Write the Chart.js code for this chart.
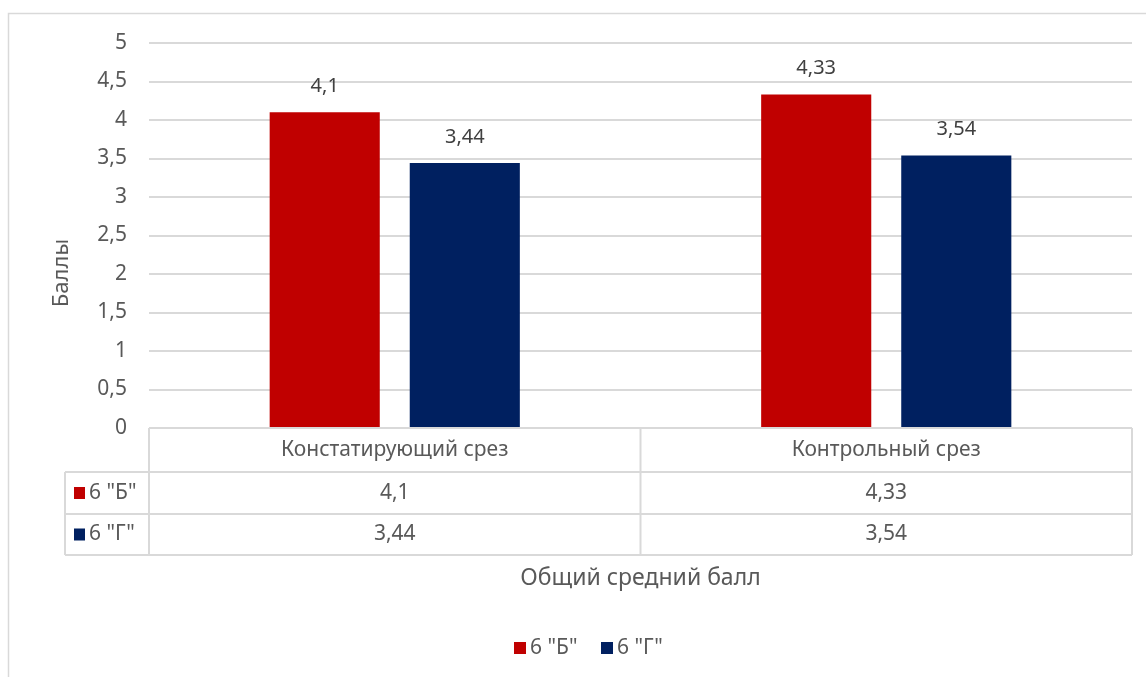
<!DOCTYPE html>
<html>
<head>
<meta charset="utf-8">
<script src="https://cdn.jsdelivr.net/npm/chart.js@4/dist/chart.umd.min.js"></script>
<style>
  html,body{margin:0;padding:0;background:#fff;}
  #wrap{width:1146px;height:677px;position:relative;}
</style>
</head>
<body>
<div id="wrap"><canvas id="chartBall"></canvas></div>
<script>
const categories = ["Констатирующий срез", "Контрольный срез"];
const seriesNames = ['6 "Б"', '6 "Г"'];
const valuesB = [4.1, 4.33];
const valuesG = [3.44, 3.54];
const seriesColors = ["#C00000", "#002060"];
const yTitle = "Баллы";
const xTitle = "Общий средний балл";

const FONT = "'Noto Sans', sans-serif";
const TEXT = "#595959";
const LINE = "#d9d9d9";

const fmt = v => String(v).replace(".", ",");

// data labels, data table, titles, legend, outer frame
const excelBits = {
  id: "excelBits",
  afterDraw(chart){
    const ctx = chart.ctx;
    const area = chart.chartArea;
    const xs = chart.scales.x;
    ctx.save();

    // outer frame of the chart object
    ctx.strokeStyle = LINE;
    ctx.lineWidth = 1.5;
    ctx.strokeRect(8.5, 13.5, 1400, 900);

    // values above bars
    ctx.fillStyle = "#404040";
    ctx.font = "20px " + FONT;
    ctx.textAlign = "center";
    ctx.textBaseline = "middle";
    chart.data.datasets.forEach((ds, di) => {
      chart.getDatasetMeta(di).data.forEach((bar, i) => {
        ctx.fillText(fmt(ds.data[i]), bar.x, bar.y - 26);
      });
    });

    // data table
    const rowH = [44, 42, 41];
    const top = area.bottom;
    const r1 = top + rowH[0], r2 = r1 + rowH[1], r3 = r2 + rowH[2];
    const keyLeft = 65;
    const half = (xs.getPixelForValue(1) - xs.getPixelForValue(0)) / 2;
    const mid = xs.getPixelForValue(0) + half;

    ctx.strokeStyle = LINE;
    ctx.lineWidth = 2;
    ctx.beginPath();
    ctx.moveTo(area.left, top); ctx.lineTo(area.right, top);
    [r1, r2, r3].forEach(y => { ctx.moveTo(keyLeft, y); ctx.lineTo(area.right, y); });
    ctx.moveTo(keyLeft, r1); ctx.lineTo(keyLeft, r3);
    [area.left, mid, area.right].forEach(x => { ctx.moveTo(x, top); ctx.lineTo(x, r3); });
    ctx.stroke();

    ctx.fillStyle = TEXT;
    ctx.font = "21px " + FONT;
    categories.forEach((c, i) => {
      ctx.fillText(c, xs.getPixelForValue(i), top + rowH[0] / 2);
    });
    const rows = [valuesB, valuesG];
    const rowMid = [r1 + rowH[1] / 2, r2 + rowH[2] / 2];
    rows.forEach((vals, ri) => {
      vals.forEach((v, i) => {
        ctx.fillStyle = TEXT;
        ctx.textAlign = "center";
        ctx.fillText(fmt(v), xs.getPixelForValue(i), rowMid[ri]);
      });
      ctx.fillStyle = seriesColors[ri];
      ctx.fillRect(74, rowMid[ri] - 6, 11, 12);
      ctx.fillStyle = TEXT;
      ctx.textAlign = "left";
      ctx.fillText(seriesNames[ri], 89, rowMid[ri]);
    });

    // legend under the chart
    ctx.font = "21px " + FONT;
    let lx = 514;
    seriesNames.forEach((n, i) => {
      ctx.fillStyle = seriesColors[i];
      ctx.fillRect(lx, 642, 12, 12);
      ctx.fillStyle = TEXT;
      ctx.textAlign = "left";
      ctx.fillText(n, lx + 16, 648);
      lx += 87;
    });

    // axis titles
    ctx.textAlign = "center";
    ctx.font = "23px " + FONT;
    ctx.fillText(xTitle, (area.left + area.right) / 2, 578);
    ctx.font = "22px " + FONT;
    ctx.translate(62, 273);
    ctx.rotate(-Math.PI / 2);
    ctx.fillText(yTitle, 0, 0);
    ctx.restore();
  }
};

function buildChart(){
  const ctx = document.getElementById("chartBall");
  return new Chart(ctx, {
    type: "bar",
    data: {
      labels: categories,
      datasets: [
        { label: seriesNames[0], data: valuesB, backgroundColor: seriesColors[0] },
        { label: seriesNames[1], data: valuesG, backgroundColor: seriesColors[1] }
      ]
    },
    options: {
      responsive: true,
      maintainAspectRatio: false,
      animation: false,
      categoryPercentage: 0.57,
      barPercentage: 0.786,
      layout: { padding: { top: 43, right: 14, bottom: 10, left: 0 } },
      plugins: {
        tooltip: { enabled: false },
        legend: { display: false }
      },
      scales: {
        x: {
          ticks: { display: false },
          grid: { display: false, drawTicks: false },
          border: { display: false },
          afterFit(s){ s.height = 239; }
        },
        y: {
          min: 0, max: 5,
          ticks: {
            stepSize: 0.5,
            padding: 22,
            color: TEXT,
            font: { family: FONT, size: 21 },
            callback: v => fmt(v)
          },
          grid: { color: LINE, lineWidth: 2, drawTicks: false },
          border: { display: false },
          afterFit(s){ s.width = 149; }
        }
      }
    },
    plugins: [excelBits]
  });
}

document.addEventListener("DOMContentLoaded", buildChart);
</script>
</body>
</html>
